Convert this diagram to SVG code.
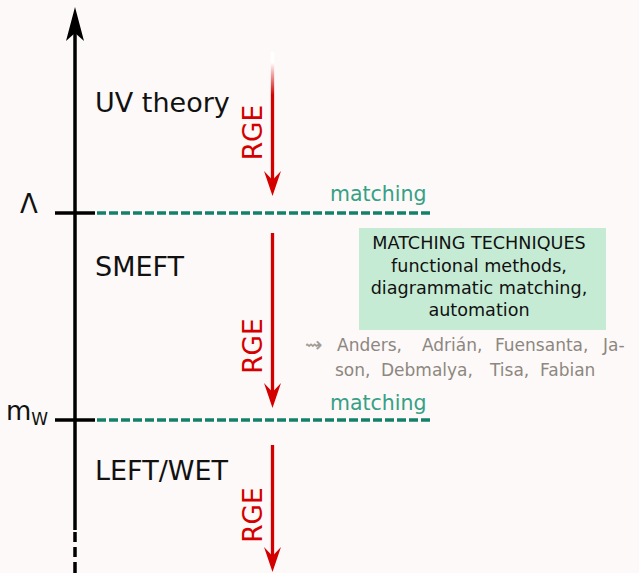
<svg xmlns="http://www.w3.org/2000/svg" width="639" height="573" viewBox="0 0 639 573">
  <defs>
    <style>
      text { font-family: "DejaVu Sans", "Noto Sans", sans-serif; }
      .axis { stroke: #000; stroke-width: 3.5; fill: none; }
      .tick { stroke: #000; stroke-width: 3.5; }
      .scale { stroke: #14806a; stroke-width: 3.5; stroke-dasharray: 9 3; }
      .rge-line { stroke: #d40000; stroke-width: 3.3; fill: none; }
      .rge-head { fill: #d40000; }
      .rge { fill: #d40000; font-size: 26.5px; text-anchor: middle; }
      .label { fill: #111; font-size: 27px; }
      .match { fill: #36a085; font-size: 20.5px; }
      .box { fill: #c6ebd4; }
      .boxtext { fill: #111; font-size: 17.6px; text-anchor: middle; }
      .names { fill: #8c8780; font-size: 17px; }
    </style>
    <linearGradient id="fadeIn" gradientUnits="userSpaceOnUse" x1="0" y1="52" x2="0" y2="95">
      <stop offset="0" stop-color="#ffffff"/>
      <stop offset="0.25" stop-color="#ffffff"/>
      <stop offset="1" stop-color="#d40000"/>
    </linearGradient>
  </defs>

  <rect width="639" height="573" fill="#fdf9f8"/>

  <!-- energy axis -->
  <g id="axis">
    <line class="axis" x1="75" y1="30" x2="75" y2="530"/>
    <path d="M75 7 L84 41 L75 33 L66 41 Z" fill="#000"/>
    <line class="axis" x1="75" y1="532" x2="75" y2="542"/>
    <line class="axis" x1="75" y1="547" x2="75" y2="557"/>
    <line class="axis" x1="75" y1="562" x2="75" y2="573"/>
  </g>

  <!-- matching scales -->
  <g id="scale-lambda">
    <line class="tick" x1="55" y1="213" x2="95" y2="213"/>
    <line class="scale" x1="97" y1="213" x2="430" y2="213"/>
    <text x="20" y="213" font-size="26" fill="#111">Λ</text>
    <text class="match" x="330" y="201">matching</text>
  </g>
  <g id="scale-mw">
    <line class="tick" x1="55" y1="420" x2="95" y2="420"/>
    <line class="scale" x1="97" y1="420" x2="430" y2="420"/>
    <text x="6" y="420" font-size="26" fill="#111">m<tspan font-size="17" dy="5">W</tspan></text>
    <text class="match" x="330" y="410">matching</text>
  </g>

  <!-- theory regions -->
  <g id="uv-theory"><text class="label" x="95" y="112">UV theory</text></g>
  <g id="smeft"><text class="label" x="95" y="276">SMEFT</text></g>
  <g id="left-wet"><text class="label" x="95" y="480">LEFT/WET</text></g>

  <!-- renormalisation group running -->
  <g id="connectors">
    <line x1="272.5" y1="52" x2="272.5" y2="180" stroke="url(#fadeIn)" stroke-width="3.3"/>
    <path class="rge-head" d="M272.5 196 L281 171 L272.5 180 L264 171 Z"/>
    <line class="rge-line" x1="272.5" y1="233" x2="272.5" y2="392"/>
    <path class="rge-head" d="M272.5 408 L281 383 L272.5 392 L264 383 Z"/>
    <line class="rge-line" x1="272.5" y1="445" x2="272.5" y2="556"/>
    <path class="rge-head" d="M272.5 572 L281 547 L272.5 556 L264 547 Z"/>
  </g>
  <g id="rge-labels">
    <text class="rge" transform="translate(262 132.5) rotate(-90)">RGE</text>
    <text class="rge" transform="translate(262 346) rotate(-90)">RGE</text>
    <text class="rge" transform="translate(262 515) rotate(-90)">RGE</text>
  </g>

  <!-- matching techniques box -->
  <g id="techniques">
    <rect class="box" x="359" y="228" width="247" height="102"/>
    <text class="boxtext" x="479" y="249">MATCHING TECHNIQUES</text>
    <text class="boxtext" x="479" y="272">functional methods,</text>
    <text class="boxtext" x="479" y="294">diagrammatic matching,</text>
    <text class="boxtext" x="479" y="316">automation</text>
  </g>

  <!-- contributors -->
  <g id="contributors" class="names">
    <text x="305" y="352" font-size="21" fill="#a09b95">⇝</text>
    <text x="337" y="351">Anders,</text>
    <text x="422" y="351">Adrián,</text>
    <text x="495" y="351">Fuensanta,</text>
    <text x="603" y="351">Ja-</text>
    <text x="335" y="376">son,</text>
    <text x="381" y="376">Debmalya,</text>
    <text x="490" y="376">Tisa,</text>
    <text x="540" y="376">Fabian</text>
  </g>
</svg>
